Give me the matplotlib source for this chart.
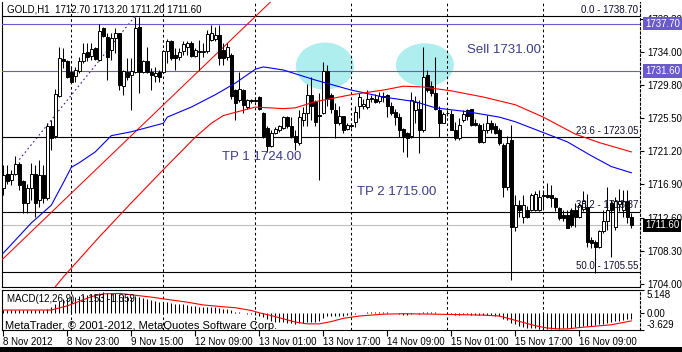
from matplotlib.patches import Ellipse, Rectangle
from matplotlib.transforms import blended_transform_factory
import matplotlib.pyplot as plt


# ----------------------------------------------------------
# CONFIG
# ----------------------------------------------------------

FIG_W, FIG_H = 682, 352
DPI = 100
plt.rcParams["font.family"] = ["Liberation Sans", "DejaVu Sans"]

SLATE = "#6A5ACD"
NOTE_COLOR = "#3C3C8C"
CYAN = "#AFEEEE"


# ----------------------------------------------------------
# DATA  (GOLD, H1, bars from 8 Nov 2012 07:00)
# ----------------------------------------------------------

OPENS = [
    1716.4, 1718.3, 1717.5, 1718.2, 1719.5, 1717.3, 1714.5, 1716.4, 1718.3, 1714.9,
    1718.1, 1715.1, 1724.4, 1723.1, 1728.3, 1733.1, 1732.8, 1731.5, 1730.9, 1731.6,
    1732.8, 1734.0, 1733.5, 1734.6, 1733.0, 1737.1, 1736.0, 1734.3, 1735.9, 1736.5,
    1729.6, 1731.5, 1731.1, 1731.5, 1737.3, 1731.5, 1732.8, 1731.5, 1730.9, 1731.4,
    1731.4, 1734.2, 1735.5, 1733.7, 1733.4, 1734.1, 1734.7, 1735.2, 1733.5, 1734.2,
    1734.0, 1734.1, 1735.6, 1735.7, 1736.2, 1734.3, 1733.4, 1733.7, 1729.1, 1727.8,
    1729.1, 1726.9, 1727.8, 1727.8, 1728.2, 1726.1, 1724.2, 1721.8, 1723.6, 1723.9,
    1724.2, 1725.6, 1724.4, 1723.1, 1722.2, 1725.2, 1726.1, 1728.5, 1727.6, 1725.9,
    1726.1, 1731.6, 1728.5, 1726.5, 1724.8, 1725.7, 1724.0, 1724.6, 1725.0, 1727.0,
    1727.0, 1726.9, 1728.1, 1728.0, 1727.7, 1728.3, 1728.5, 1727.0, 1726.2, 1725.6,
    1724.0, 1723.5, 1723.1, 1726.5, 1726.7, 1723.9, 1731.1, 1729.6, 1728.7, 1726.5,
    1724.9, 1726.1, 1726.0, 1723.9, 1722.9, 1725.2, 1726.5, 1726.6, 1724.9, 1724.6,
    1722.4, 1723.9, 1724.8, 1724.4, 1723.9, 1722.0, 1716.6, 1722.6, 1711.4, 1714.2,
    1712.7, 1713.6, 1713.6, 1713.6, 1713.6, 1715.5, 1715.5, 1715.5, 1715.1, 1713.9,
    1712.9, 1712.9, 1713.6, 1713.6, 1712.7, 1713.7, 1714.0, 1709.7, 1709.4, 1708.8,
    1710.8, 1712.1, 1714.5, 1711.4, 1714.4, 1713.6, 1714.8, 1712.7,
]
HIGHS = [
    1719.4, 1719.4, 1718.8, 1720.6, 1719.8, 1717.5, 1717.0, 1719.7, 1719.4, 1720.1,
    1719.4, 1724.8, 1725.2, 1729.3, 1734.7, 1734.5, 1733.0, 1732.1, 1732.1, 1733.4,
    1735.2, 1735.2, 1735.2, 1734.7, 1737.7, 1737.3, 1736.5, 1736.5, 1737.1, 1736.5,
    1731.7, 1733.2, 1733.2, 1738.6, 1738.6, 1733.0, 1734.7, 1731.9, 1732.1, 1731.7,
    1734.3, 1735.7, 1735.6, 1734.5, 1734.5, 1735.4, 1735.5, 1735.4, 1734.5, 1735.6,
    1735.2, 1736.9, 1737.5, 1737.3, 1737.5, 1735.2, 1735.2, 1733.9, 1729.3, 1731.5,
    1729.2, 1728.0, 1728.0, 1728.2, 1728.3, 1726.3, 1724.4, 1723.9, 1724.3, 1724.6,
    1725.8, 1725.7, 1725.6, 1723.9, 1726.5, 1726.9, 1729.9, 1730.8, 1727.8, 1728.7,
    1732.7, 1732.4, 1728.7, 1727.4, 1727.0, 1725.8, 1724.9, 1724.9, 1727.0, 1728.7,
    1728.0, 1729.1, 1728.5, 1728.6, 1728.9, 1728.9, 1728.6, 1727.6, 1726.6, 1726.1,
    1724.2, 1723.7, 1728.9, 1728.3, 1727.8, 1734.7, 1731.7, 1730.3, 1733.4, 1727.0,
    1726.3, 1726.5, 1726.5, 1725.0, 1725.5, 1726.5, 1726.7, 1726.7, 1725.3, 1724.8,
    1724.9, 1725.9, 1725.2, 1724.8, 1724.2, 1722.2, 1723.1, 1724.6, 1715.5, 1714.9,
    1715.5, 1714.1, 1715.8, 1716.0, 1716.2, 1716.2, 1717.1, 1716.8, 1715.3, 1714.0,
    1713.6, 1713.6, 1713.8, 1714.5, 1714.5, 1716.0, 1715.7, 1710.1, 1709.7, 1711.0,
    1713.6, 1716.6, 1714.9, 1715.3, 1716.3, 1716.2, 1716.2, 1713.2,
]
LOWS = [
    1715.5, 1717.0, 1716.8, 1718.1, 1716.2, 1713.2, 1713.2, 1714.9, 1712.7, 1714.0,
    1714.5, 1714.9, 1721.4, 1722.9, 1728.2, 1731.9, 1730.6, 1730.1, 1730.2, 1731.3,
    1732.6, 1732.8, 1733.0, 1733.0, 1732.8, 1736.0, 1730.4, 1733.0, 1733.9, 1729.1,
    1728.5, 1730.4, 1726.5, 1731.3, 1728.7, 1731.3, 1731.3, 1729.1, 1730.2, 1730.2,
    1731.3, 1732.6, 1733.0, 1731.7, 1733.0, 1733.7, 1733.7, 1733.4, 1733.4, 1731.7,
    1733.4, 1733.9, 1735.4, 1735.4, 1732.4, 1732.4, 1733.0, 1728.0, 1725.2, 1727.6,
    1726.1, 1726.7, 1727.4, 1727.5, 1726.5, 1722.9, 1721.1, 1721.7, 1723.4, 1723.7,
    1724.0, 1724.2, 1722.9, 1721.4, 1722.0, 1724.4, 1724.4, 1725.2, 1724.4, 1717.5,
    1726.0, 1727.0, 1726.1, 1722.9, 1724.6, 1723.6, 1723.9, 1724.2, 1724.3, 1725.5,
    1726.6, 1726.6, 1727.6, 1727.4, 1727.4, 1727.6, 1725.6, 1725.9, 1724.6, 1723.0,
    1721.1, 1720.5, 1722.9, 1724.8, 1720.9, 1723.7, 1728.9, 1728.3, 1726.5, 1723.0,
    1724.8, 1725.7, 1723.9, 1722.7, 1722.7, 1725.0, 1725.2, 1724.4, 1724.4, 1722.3,
    1722.3, 1723.5, 1723.5, 1723.4, 1722.0, 1715.3, 1716.2, 1704.5, 1710.8, 1712.7,
    1711.9, 1712.5, 1713.4, 1713.4, 1713.4, 1713.6, 1715.1, 1714.0, 1713.4, 1712.3,
    1712.1, 1711.2, 1711.4, 1711.4, 1712.5, 1713.5, 1708.8, 1708.6, 1705.4, 1708.6,
    1710.6, 1711.0, 1707.5, 1711.0, 1713.4, 1712.7, 1711.9, 1711.2,
]
CLOSES = [
    1718.1, 1717.3, 1718.3, 1719.5, 1716.8, 1714.5, 1716.4, 1718.3, 1714.5, 1718.1,
    1715.1, 1724.4, 1722.9, 1728.6, 1733.3, 1732.8, 1730.8, 1730.2, 1731.7, 1732.8,
    1733.9, 1733.4, 1734.4, 1733.1, 1736.8, 1736.1, 1733.4, 1735.8, 1736.5, 1729.8,
    1731.6, 1730.8, 1731.6, 1737.1, 1731.5, 1732.8, 1731.5, 1731.1, 1731.3, 1730.8,
    1734.2, 1735.5, 1733.2, 1733.3, 1734.0, 1735.1, 1735.2, 1733.5, 1734.3, 1734.0,
    1734.1, 1736.4, 1736.5, 1736.2, 1733.2, 1733.2, 1734.7, 1728.3, 1727.4, 1729.2,
    1727.2, 1727.8, 1727.7, 1727.7, 1726.7, 1723.1, 1721.8, 1723.5, 1724.0, 1724.4,
    1725.6, 1724.4, 1723.1, 1722.4, 1725.6, 1726.1, 1728.5, 1727.0, 1725.0, 1725.7,
    1731.6, 1728.0, 1726.7, 1724.8, 1725.7, 1723.9, 1724.6, 1724.4, 1726.3, 1728.2,
    1727.3, 1727.9, 1728.0, 1727.6, 1728.3, 1728.2, 1727.0, 1726.1, 1725.6, 1723.9,
    1723.1, 1722.9, 1727.8, 1727.5, 1723.9, 1730.8, 1729.1, 1728.7, 1726.7, 1724.8,
    1726.0, 1726.1, 1723.9, 1722.9, 1724.6, 1726.0, 1725.7, 1724.6, 1724.6, 1722.4,
    1723.9, 1724.8, 1724.0, 1723.6, 1722.2, 1716.6, 1722.2, 1711.4, 1714.2, 1713.6,
    1714.2, 1712.7, 1715.5, 1715.7, 1715.3, 1715.4, 1715.2, 1715.1, 1714.0, 1712.6,
    1712.5, 1711.3, 1711.6, 1712.7, 1714.2, 1714.7, 1709.4, 1709.3, 1708.8, 1710.8,
    1712.1, 1713.6, 1713.6, 1714.7, 1714.8, 1714.8, 1712.7, 1711.6,
]

# moving averages, read at a number of bars
MA_BLUE_IDX = [0, 7, 12, 15, 17, 19, 23, 27, 32, 40, 41, 47, 53, 58, 63, 65, 70, 78,
               87, 95, 103, 108, 116, 124, 128, 135, 141, 147, 152, 157]
MA_BLUE_VAL = [1708.0, 1711.9, 1714.2, 1717.1, 1719.1, 1719.7, 1721.1, 1723.2, 1723.7,
               1724.8, 1725.6, 1726.9, 1728.5, 1730.0, 1731.8, 1732.1, 1731.7, 1730.4,
               1729.1, 1728.2, 1727.6, 1726.8, 1726.3, 1725.6, 1725.0, 1723.6, 1722.4,
               1720.6, 1719.2, 1718.4]
MA_RED_IDX = [12, 15, 24, 32, 40, 48, 52, 55, 63, 70, 73, 78, 87, 95, 100, 105, 112,
              120, 124, 128, 135, 143, 149, 157]
MA_RED_VAL = [1703.0, 1704.9, 1710.1, 1714.5, 1718.8, 1723.0, 1724.8, 1725.8, 1726.9,
              1726.7, 1726.8, 1727.6, 1728.5, 1729.1, 1729.6, 1729.5, 1729.0, 1728.2,
              1727.7, 1727.2, 1725.6, 1723.4, 1722.3, 1721.1]

# MACD(12,26,9): histogram per bar, signal read at a number of bars
MACD_HIST = [
    0.8, 0.75, 0.7, 0.7, 0.7, 0.6, 0.6, 0.65, 0.6, 0.65, 0.6,
    1.0, 1.3, 1.9, 2.6, 3.0, 3.3, 3.5, 3.6, 3.7, 3.9,
    4.0, 4.1, 4.2, 4.4, 4.5, 4.4, 4.3, 4.3, 4.1, 3.9,
    3.7, 3.5, 3.7, 3.5, 3.3, 3.1, 2.9, 2.7, 2.5, 2.5,
    2.5, 2.3, 2.1, 2.0, 1.9, 1.8, 1.6, 1.5, 1.4, 1.3,
    1.4, 1.4, 1.4, 1.2, 1.0, 1.0, 0.6, 0.3, 0.2, 0.0,
    -0.1, -0.2, -0.3, -0.5, -0.9, -1.3, -1.6, -1.8, -1.9, -2.0,
    -2.1, -2.2, -2.3, -2.2, -2.1, -1.9, -1.8, -1.8, -1.6, -1.0,
    -0.7, -0.6, -0.6, -0.5, -0.5, -0.4, -0.3, -0.2, 0.0, 0.1,
    0.2, 0.2, 0.2, 0.3, 0.3, 0.2, 0.1, 0.0, -0.2, -0.3,
    -0.4, -0.1, 0.1, -0.1, 0.3, 0.3, 0.3, 0.2, 0.0, 0.0,
    -0.1, -0.2, -0.3, -0.3, -0.2, -0.2, -0.3, -0.3, -0.4, -0.4,
    -0.4, -0.4, -0.5, -0.7, -1.2, -1.4, -2.1, -2.4, -2.7, -2.9,
    -3.1, -3.2, -3.3, -3.4, -3.4, -3.4, -3.4, -3.4, -3.4, -3.3,
    -3.2, -3.1, -3.0, -2.9, -2.8, -2.8, -2.7, -2.5, -2.4, -2.3,
    -2.1, -1.9, -1.7, -1.6, -1.4, -1.3, -1.153,
]
SIG_IDX = [0, 12, 16, 19, 22, 25, 29, 33, 37, 41, 46, 50, 55, 58, 62, 64, 67, 70, 73,
           76, 79, 82, 85, 89, 95, 100, 108, 114, 120, 124, 127, 130, 133, 136, 139,
           141, 144, 148, 152, 157]
SIG_VAL = [0.7, 0.7, 1.6, 2.6, 3.6, 4.2, 4.3, 3.9, 3.5, 3.0, 2.4, 1.8, 1.4, 1.2, 0.6,
           0.1, -0.5, -1.2, -1.9, -2.3, -2.3, -1.8, -1.1, -0.6, -0.2, -0.1, -0.2, -0.3,
           -0.4, -0.6, -1.3, -2.0, -2.7, -3.2, -3.4, -3.4, -3.1, -2.8, -2.5, -1.659]
MACD_LIMITS = (-3.629, 5.148)

# axes
PRICE_TICKS = [1738.30, 1734.00, 1729.80, 1725.50, 1721.20, 1716.90, 1712.60, 1708.30, 1704.00]
PRICE_LIMITS = (1703.61, 1740.50)
TIME_TICK_IDX = [0, 16, 32, 48, 64, 80, 96, 112, 128, 144]
TIME_TICK_LABELS = ["8 Nov 2012", "8 Nov 23:00", "9 Nov 15:00", "12 Nov 09:00",
                    "13 Nov 01:00", "13 Nov 17:00", "14 Nov 09:00", "15 Nov 01:00",
                    "15 Nov 17:00", "16 Nov 09:00"]
DAY_START_IDX = [17, 40, 63, 87, 111, 135]

# objects on the chart
FIB_LEVELS = [1738.70, 1723.05, 1713.37, 1705.55]
FIB_NAMES = ["0.0", "23.6", "38.2", "50.0"]
FIB_TREND = ([4, 33], [1720.1, 1738.7])
TRENDLINE = ([-1, 68], [1706.8, 1741.1])
HLINES = [1737.70, 1731.60]
BID = 1711.60
ELLIPSE_IDX = [80.4, 105.4]
ELLIPSE_PRICE = [1732.2, 1732.35]
ELLIPSE_W = [14.5, 14.5]
ELLIPSE_H = [6.1, 5.6]
NOTES = ["Sell 1731.00", "TP 1 1724.00", "TP 2 1715.00"]
NOTE_IDX = [115.9, 54.7, 88.4]
NOTE_PRICE = [1734.3, 1720.4, 1715.9]
HEADER = "GOLD,H1  1712.70 1713.20 1711.20 1711.60"


# ----------------------------------------------------------
# HELPERS
# ----------------------------------------------------------

def px_rect(x0, y0, x1, y1):
    """Figure-fraction rect from pixel box (origin top-left)."""
    return [x0 / FIG_W, 1 - y1 / FIG_H, (x1 - x0) / FIG_W, (y1 - y0) / FIG_H]


def style_panel(ax):
    ax.set_facecolor("white")
    ax.spines["top"].set_visible(False)
    ax.spines["right"].set_linestyle((0, (2, 2)))
    for side in ("left", "bottom", "right"):
        ax.spines[side].set_linewidth(0.8)
    for d in DAY_START_IDX:
        ax.axvline(d, color="black", lw=0.75, ls=(0, (2.5, 2.5)), zorder=1)


def draw_candles(ax):
    idx = list(range(len(OPENS)))
    ax.vlines(idx, LOWS, HIGHS, color="black", lw=0.75, zorder=4)
    bottoms = [min(o, c) for o, c in zip(OPENS, CLOSES)]
    heights = [max(abs(c - o), 0.06) for o, c in zip(OPENS, CLOSES)]
    faces = ["white" if c >= o else "black" for o, c in zip(OPENS, CLOSES)]
    ax.bar(idx, heights, bottom=bottoms, width=0.72, color=faces,
           edgecolor="black", linewidth=0.7, zorder=5)


def draw_objects(ax):
    for x, y, w, h in zip(ELLIPSE_IDX, ELLIPSE_PRICE, ELLIPSE_W, ELLIPSE_H):
        ax.add_patch(Ellipse((x, y), w, h, facecolor=CYAN, edgecolor="none", zorder=0.5))

    for level, name in zip(FIB_LEVELS, FIB_NAMES):
        ax.axhline(level, color="black", lw=0.8, zorder=2)
        ax.text(158.7, level + 0.15, f"{name} - {level:.2f}", ha="right", va="bottom",
                fontsize=7, color="#101030", zorder=7)
    ax.plot(*FIB_TREND, color="#4B1A8C", lw=0.8, ls=(0, (1.5, 2.5)), zorder=2)

    for level in HLINES:
        ax.axhline(level, color=SLATE, lw=0.8, zorder=3)
    ax.axhline(BID, color="#C0C0C0", lw=0.8, zorder=1.5)

    ax.plot(*TRENDLINE, color="red", lw=0.75, zorder=3)
    ax.plot(MA_BLUE_IDX, MA_BLUE_VAL, color="blue", lw=0.8, zorder=6)
    ax.plot(MA_RED_IDX, MA_RED_VAL, color="red", lw=0.8, zorder=6)

    for text, x, y in zip(NOTES, NOTE_IDX, NOTE_PRICE):
        ax.text(x, y, text, ha="left", va="center", fontsize=9.5, color=NOTE_COLOR, zorder=7)

    ax.text(0.008, 0.972, HEADER, transform=ax.transAxes, ha="left", va="center",
            fontsize=7, color="black", zorder=7)


def draw_price_axis(ax):
    ax.yaxis.tick_right()
    ax.set_yticks(PRICE_TICKS, [f"{p:.2f}" for p in PRICE_TICKS])
    ax.tick_params(axis="y", length=3, width=0.8, labelsize=7, pad=2)
    ax.tick_params(axis="x", length=0, labelbottom=False)

    trans = blended_transform_factory(ax.transAxes, ax.transData)
    for level, face in ((HLINES[0], SLATE), (HLINES[1], SLATE), (BID, "black")):
        ax.text(1.0078, level, f"{level:.2f}", transform=trans, ha="left", va="center",
                fontsize=7, color="white", zorder=8,
                bbox=dict(boxstyle="square,pad=0.18", fc=face, ec="none"))


def draw_macd(axm):
    idx = list(range(len(MACD_HIST)))
    axm.vlines(idx, 0, MACD_HIST, color="black", lw=0.75, zorder=3)
    axm.plot(SIG_IDX, SIG_VAL, color="red", lw=0.8, zorder=4)
    axm.set_ylim(*MACD_LIMITS)

    axm.yaxis.tick_right()
    axm.set_yticks([MACD_LIMITS[1], 0.0, MACD_LIMITS[0]],
                   [f"{MACD_LIMITS[1]:.3f}", "0.00", f"{MACD_LIMITS[0]:.3f}"])
    axm.tick_params(axis="y", length=3, width=0.8, labelsize=7, pad=2)
    for lab in axm.get_yticklabels():
        if lab.get_text() == f"{MACD_LIMITS[1]:.3f}":
            lab.set_va("top")
        elif lab.get_text() == f"{MACD_LIMITS[0]:.3f}":
            lab.set_va("bottom")

    axm.set_xticks(TIME_TICK_IDX, TIME_TICK_LABELS)
    axm.tick_params(axis="x", length=4, width=0.8, labelsize=7, pad=1)
    for lab in axm.get_xticklabels():
        lab.set_ha("left")

    axm.spines["top"].set_visible(True)
    axm.spines["top"].set_linewidth(0.8)
    axm.text(0.008, 0.76, f"MACD(12,26,9) {MACD_HIST[-1]:.3f} {SIG_VAL[-1]:.3f}",
             transform=axm.transAxes, ha="left", va="center", fontsize=7, zorder=7)
    axm.text(0.005, 0.1, "MetaTrader, \u00a9 2001-2012, MetaQuotes Software Corp.",
             transform=axm.transAxes, ha="left", va="center", fontsize=8, zorder=7)


# ----------------------------------------------------------
# MAIN
# ----------------------------------------------------------

def main():
    fig = plt.figure(figsize=(FIG_W / DPI, FIG_H / DPI), dpi=DPI)
    fig.patch.set_facecolor("white")

    ax = fig.add_axes(px_rect(2, 2, 640, 287))
    axm = fig.add_axes(px_rect(2, 289.5, 640, 330), sharex=ax)

    style_panel(ax)
    style_panel(axm)

    draw_candles(ax)
    draw_objects(ax)
    ax.set_xlim(-0.325, 159.175)
    ax.set_ylim(*PRICE_LIMITS)
    draw_price_axis(ax)
    draw_macd(axm)

    fig.add_artist(Rectangle((0, 0), 1, 5 / FIG_H, transform=fig.transFigure,
                             facecolor="black", edgecolor="none"))

    fig.savefig("out.png", dpi=DPI)


if __name__ == "__main__":
    main()
